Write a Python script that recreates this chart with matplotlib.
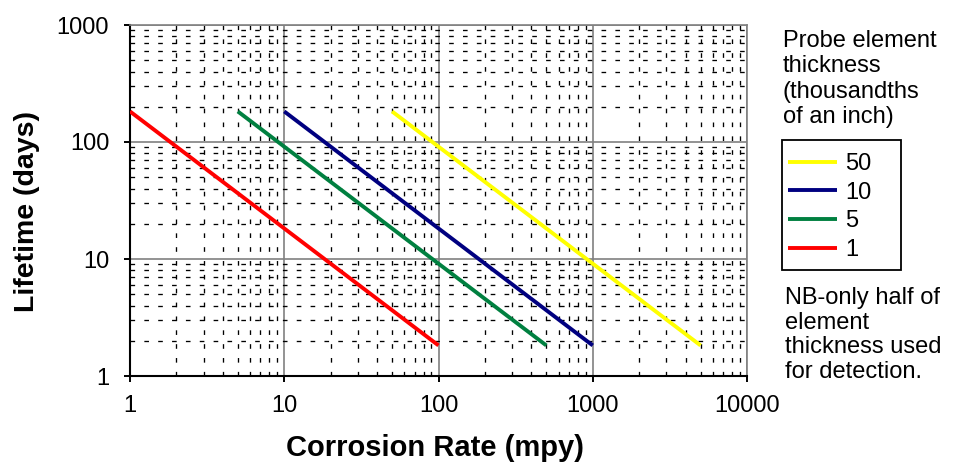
import matplotlib
matplotlib.use("Agg")
import matplotlib.pyplot as plt
from matplotlib.patches import Rectangle
from matplotlib.ticker import FixedLocator, FixedFormatter, LogLocator, NullFormatter

plt.rcParams['font.family'] = ['Liberation Sans', 'DejaVu Sans']

# Data
thickness_labels = ["1", "5", "10", "50"]
rate_start = [1, 5, 10, 50]
rate_end = [100, 500, 1000, 5000]
life_start = [182.5, 182.5, 182.5, 182.5]
life_end = [1.825, 1.825, 1.825, 1.825]
line_colors = ["#FF0000", "#008040", "#000080", "#FFFF00"]

x_ticks = [1, 10, 100, 1000, 10000]
x_ticklabels = ["1", "10", "100", "1000", "10000"]
y_ticks = [1, 10, 100, 1000]
y_ticklabels = ["1", "10", "100", "1000"]

W, H = 959, 465
fig = plt.figure(figsize=(W / 100, H / 100), dpi=100)
L, R, T, B = 130, 747, 25, 376
ax = fig.add_axes([L / W, 1 - B / H, (R - L) / W, (B - T) / H])

handles = []
for i in range(len(thickness_labels)):
    h, = ax.plot([rate_start[i], rate_end[i]], [life_start[i], life_end[i]],
                 color=line_colors[i], lw=2.8, solid_capstyle='butt', zorder=5,
                 label=thickness_labels[i])
    handles.append(h)

ax.set_xscale('log')
ax.set_yscale('log')
ax.set_xlim(1, 10000)
ax.set_ylim(1, 1000)

ax.xaxis.set_major_locator(FixedLocator(x_ticks))
ax.xaxis.set_major_formatter(FixedFormatter(x_ticklabels))
ax.yaxis.set_major_locator(FixedLocator(y_ticks))
ax.yaxis.set_major_formatter(FixedFormatter(y_ticklabels))
ax.xaxis.set_minor_locator(LogLocator(base=10, subs=range(2, 10), numticks=20))
ax.yaxis.set_minor_locator(LogLocator(base=10, subs=range(2, 10), numticks=20))
ax.xaxis.set_minor_formatter(NullFormatter())
ax.yaxis.set_minor_formatter(NullFormatter())

ax.grid(which='minor', color='black', lw=0.95, linestyle=(0, (3.5, 7)), zorder=1)
ax.grid(which='major', color='#808080', lw=1.2, linestyle='-', zorder=2)
ax.set_axisbelow(True)

ax.tick_params(axis='both', which='major', direction='out', length=4, width=1.4,
               color='black', labelsize=17)
ax.tick_params(axis='x', which='major', pad=10)
ax.tick_params(axis='y', which='major', pad=11)
ax.tick_params(axis='both', which='minor', length=0)

for s in ['left', 'bottom']:
    ax.spines[s].set_color('black')
    ax.spines[s].set_linewidth(1.5)
for s in ['top', 'right']:
    ax.spines[s].set_color('#808080')
    ax.spines[s].set_linewidth(1.2)

fig.text(435 / W, 1 - 448 / H, "Corrosion Rate (mpy)", fontsize=21, fontweight='bold',
         ha='center', va='center')
fig.text(27 / W, 1 - 211 / H, "Lifetime (days)", fontsize=20.5, fontweight='bold',
         ha='center', va='center', rotation=90)

fig.text(783 / W, 1 - 30 / H, "Probe element\nthickness\n(thousandths\nof an inch)",
         fontsize=17, ha='left', va='top', linespacing=1.2)
fig.text(785 / W, 1 - 287 / H, "NB-only half of\nelement\nthickness used\nfor detection.",
         fontsize=17, ha='left', va='top', linespacing=1.16)

# legend frame
fig.patches.append(Rectangle((782 / W, 1 - 270 / H), 119 / W, 130 / H,
                             transform=fig.transFigure, fill=False,
                             edgecolor='black', lw=1.3))
leg = fig.legend(handles[::-1], [h.get_label() for h in handles[::-1]],
                 loc='upper left', bbox_to_anchor=(788 / W, 1 - 153 / H),
                 bbox_transform=fig.transFigure, fontsize=17, frameon=False,
                 borderaxespad=0, borderpad=0,
                 handlelength=2.08, handletextpad=0.34, labelspacing=0.28)
for lh in leg.get_lines():
    lh.set_linewidth(2.8)

fig.savefig("out.png", dpi=100)
